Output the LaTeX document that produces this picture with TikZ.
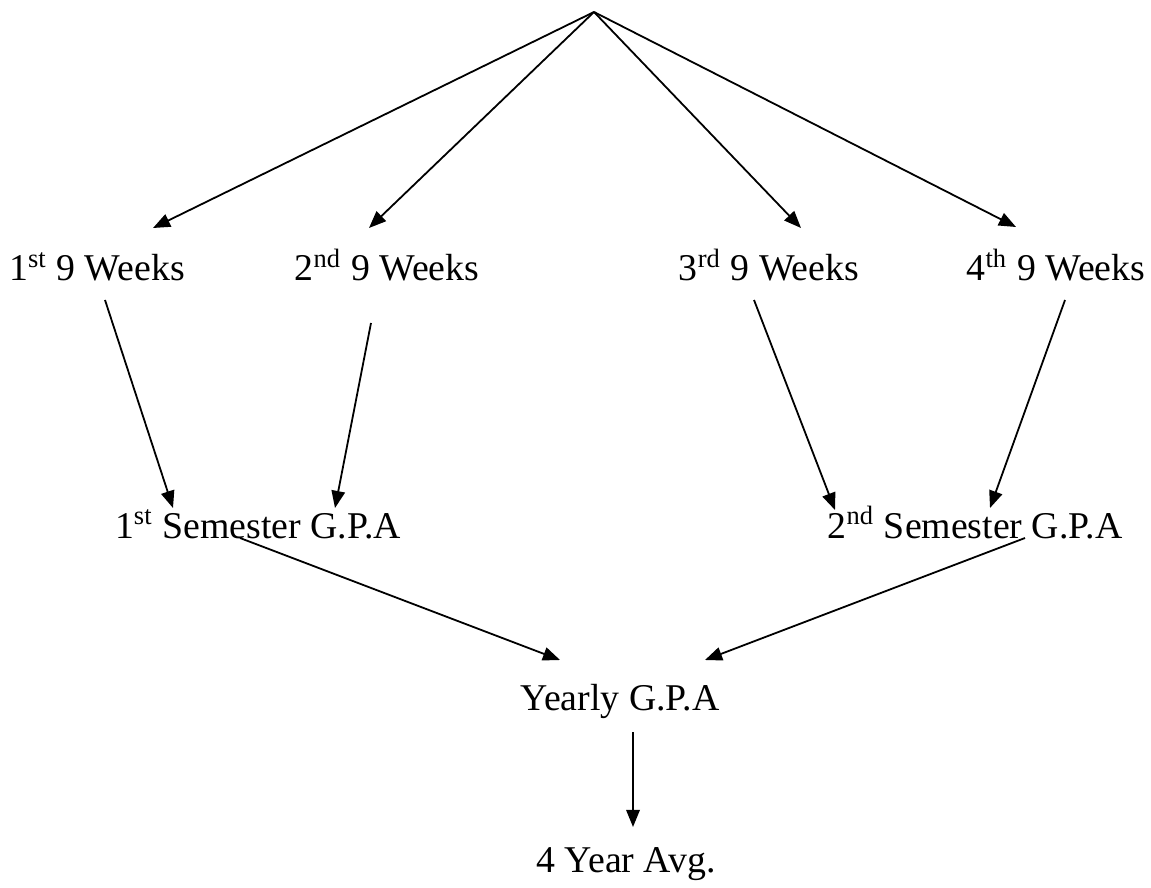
\documentclass[tikz,border=0pt]{standalone}
\usepackage{fontspec}
\setmainfont{Liberation Serif}
\usetikzlibrary{arrows.meta, calc}

\begin{document}
\begin{tikzpicture}[
    x=0.3333pt, y=-0.3333pt,
    >={Triangle[length=5.7pt, width=4.5pt]},
    arr/.style={->, line width=0.6pt},
    lbl/.style={font=\fontsize{12.6}{15}\selectfont, inner sep=0pt, anchor=base},
]
\useasboundingbox (0,0) rectangle (1151,888);
% ============================================================
% top point and the four 9-week terms
% ============================================================
\coordinate (top) at (594,12);
\node[lbl] (w1) at (97,281) {1\textsuperscript{st} 9 Weeks};
\node[lbl] (w2) at (387,281) {2\textsuperscript{nd} 9 Weeks};
\node[lbl] (w3) at (769,281) {3\textsuperscript{rd} 9 Weeks};
\node[lbl] (w4) at (1056,281) {4\textsuperscript{th} 9 Weeks};
\draw[arr] (top) -- ($(w1.base)+(56,-53)$);
\draw[arr] (top) -- ($(w2.base)+(-18,-53)$);
\draw[arr] (top) -- ($(w3.base)+(32,-53)$);
\draw[arr] (top) -- ($(w4.base)+(-40,-54)$);
% ============================================================
% semesters
% ============================================================
\node[lbl] (s1) at (258,538) {1\textsuperscript{st} Semester G.P.A};
\node[lbl] (s2) at (975,538) {2\textsuperscript{nd} Semester G.P.A};
\draw[arr] ($(w1.base)+(8,19)$) -- ($(s1.base)+(-85,-30)$);
\draw[arr] ($(w2.base)+(-16,42)$) -- ($(s1.base)+(77,-30)$);
\draw[arr] ($(w3.base)+(-15,19)$) -- ($(s2.base)+(-140,-28)$);
\draw[arr] ($(w4.base)+(9,19)$) -- ($(s2.base)+(15,-30)$);
% ============================================================
% year and the four year average
% ============================================================
\node[lbl] (yr) at (620,710) {Yearly G.P.A};
\node[lbl] (avg) at (626,872) {4 Year Avg.};
\draw[arr] ($(s1.base)+(-18,0)$) -- ($(yr.base)+(-60,-50)$);
\draw[arr] ($(s2.base)+(50,0)$) -- ($(yr.base)+(85,-50)$);
\draw[arr] ($(yr.base)+(13,22)$) -- ($(avg.base)+(7,-45)$);
\end{tikzpicture}
\end{document}
